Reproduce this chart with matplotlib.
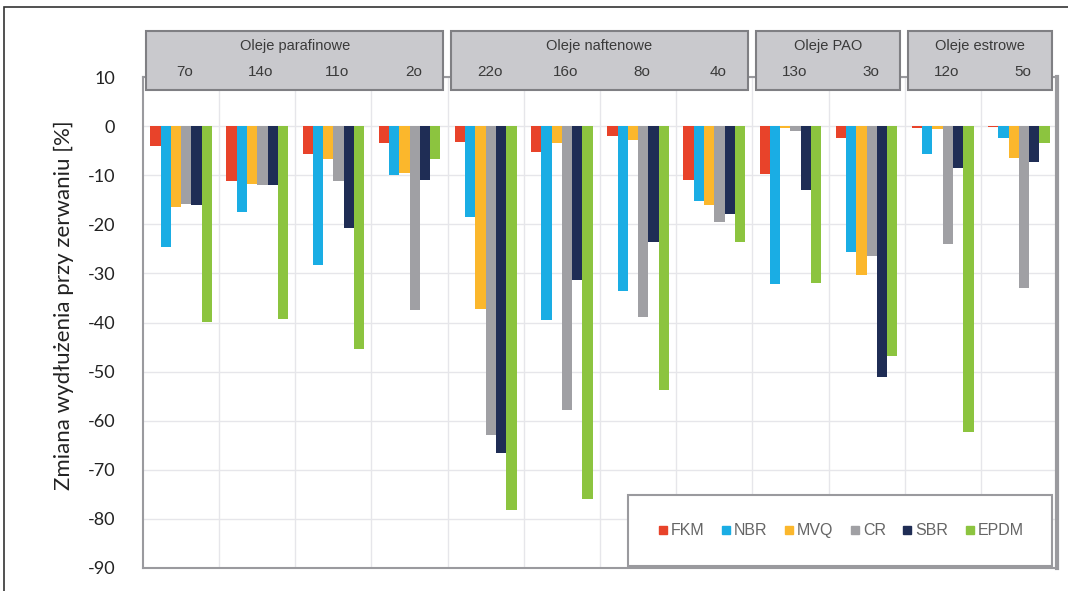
import numpy as np
import matplotlib
matplotlib.use('Agg')
import matplotlib.pyplot as plt
import matplotlib.patches as patches
import matplotlib.transforms as mtransforms
from matplotlib.lines import Line2D

plt.rcParams['axes.unicode_minus'] = False

# samples (oils) and their groups
samples = ['7o', '14o', '11o', '2o', '22o', '16o', '8o', '4o', '13o', '3o', '12o', '5o']
groups = ['Oleje parafinowe', 'Oleje naftenowe', 'Oleje PAO', 'Oleje estrowe']
group_sizes = [4, 4, 2, 2]

# change of elongation at break [%] per elastomer
FKM  = [-4.0, -11.2, -5.7, -3.5, -3.3, -5.2, -2.0, -11.0, -9.8, -2.5, -0.4, -0.2]
NBR  = [-24.7, -17.4, -28.2, -10.0, -18.6, -39.4, -33.6, -15.3, -32.1, -25.6, -5.7, -2.5]
MVQ  = [-16.5, -11.7, -6.7, -9.5, -37.2, -3.5, -2.9, -16.0, -0.3, -30.4, -0.5, -6.5]
CR   = [-15.8, -12.0, -11.2, -37.4, -63.0, -57.8, -38.8, -19.6, -1.0, -26.4, -24.1, -32.9]
SBR  = [-16.0, -12.0, -20.8, -11.0, -66.5, -31.4, -23.7, -18.0, -13.1, -51.0, -8.6, -7.4]
EPDM = [-39.8, -39.2, -45.3, -6.6, -78.2, -76.0, -53.7, -23.7, -32.0, -46.9, -62.2, -3.5]

series = {'FKM': FKM, 'NBR': NBR, 'MVQ': MVQ, 'CR': CR, 'SBR': SBR, 'EPDM': EPDM}
colors = ['#E8432A', '#1AADE4', '#FBB72C', '#A0A0A4', '#1F2D55', '#8CC43F']

fig = plt.figure(figsize=(10.68, 5.91), dpi=100)
ax = fig.add_axes([143/1068, 1-568/591, (1057-143)/1068, (568-77)/591])

x = np.arange(len(samples))
w = 0.135
for i, (name, vals) in enumerate(series.items()):
    ax.bar(x + (i - 2.5) * w, vals, width=w, color=colors[i], label=name, zorder=3)

ax.set_xlim(-0.5, len(samples) - 0.5)
ax.set_ylim(-90, 10)
ax.set_yticks(np.arange(-90, 11, 10))
ax.set_xticks([])
ax.set_xticks(np.arange(0.5, len(samples) - 0.5, 1), minor=True)
ax.tick_params(axis='x', which='both', length=0, labelbottom=False)
ax.tick_params(axis='y', length=0, pad=20, labelsize=13, labelcolor='#222222')
ax.grid(axis='y', color='#E6E6EA', lw=1, zorder=0)
ax.grid(axis='x', which='minor', color='#E6E6EA', lw=1, zorder=0)
for lab in ax.get_yticklabels():
    lab.set_fontfamily('Lato')

for s in ['left', 'bottom', 'top']:
    ax.spines[s].set_color('#9A9A9E')
    ax.spines[s].set_linewidth(1.5)
ax.spines['right'].set_color('#9A9A9E')
ax.spines['right'].set_linewidth(3)

ax.set_ylabel('Zmiana wydłużenia przy zerwaniu [%]', fontsize=16, family='Lato', color='#222222')
ax.yaxis.set_label_coords(-0.076, 0.535)

# group header boxes above the plot
trans = mtransforms.blended_transform_factory(ax.transData, ax.transAxes)
start = 0
for g, n in zip(groups, group_sizes):
    x0 = start - 0.5 + 0.045
    x1 = start + n - 0.5 - 0.06
    rect = patches.Rectangle((x0, 0.9735), x1 - x0, 0.1205, transform=trans,
                             facecolor='#C9C9CD', edgecolor='#7F7F83', lw=1.5,
                             clip_on=False, zorder=5)
    ax.add_patch(rect)
    ax.text((x0 + x1) / 2, 1.063, g, transform=trans, ha='center', va='center',
            fontsize=10.5, color='#3A3A3A', family='Liberation Sans', zorder=6)
    for k in range(start, start + n):
        ax.text(k + 0.05, 1.01, samples[k], transform=trans, ha='center', va='center',
                fontsize=11, color='#3A3A3A', family='Liberation Sans', zorder=6)
    start += n

# legend
handles = [Line2D([], [], ls='none', marker='s', markersize=5.5, color=c) for c in colors]
leg = ax.legend(handles, list(series.keys()), loc='center', ncol=6,
                bbox_to_anchor=(0.531, 0.006, 0.4635, 0.139), mode='expand',
                borderaxespad=0, borderpad=1.75, fancybox=False, handletextpad=0.1,
                handlelength=0.8, prop={'family': 'Liberation Sans', 'size': 11.5},
                labelcolor='#666666', edgecolor='#9A9A9E', framealpha=1)
leg.get_frame().set_linewidth(1.5)
leg.set_zorder(7)

# outer border of the picture
fig.patches.append(patches.Rectangle((4/1068, -0.1), 1.2, 1 - 7/591 + 0.1,
                                     transform=fig.transFigure, fill=False,
                                     edgecolor='#333333', lw=1.2))

plt.savefig('out.png', dpi=100)
